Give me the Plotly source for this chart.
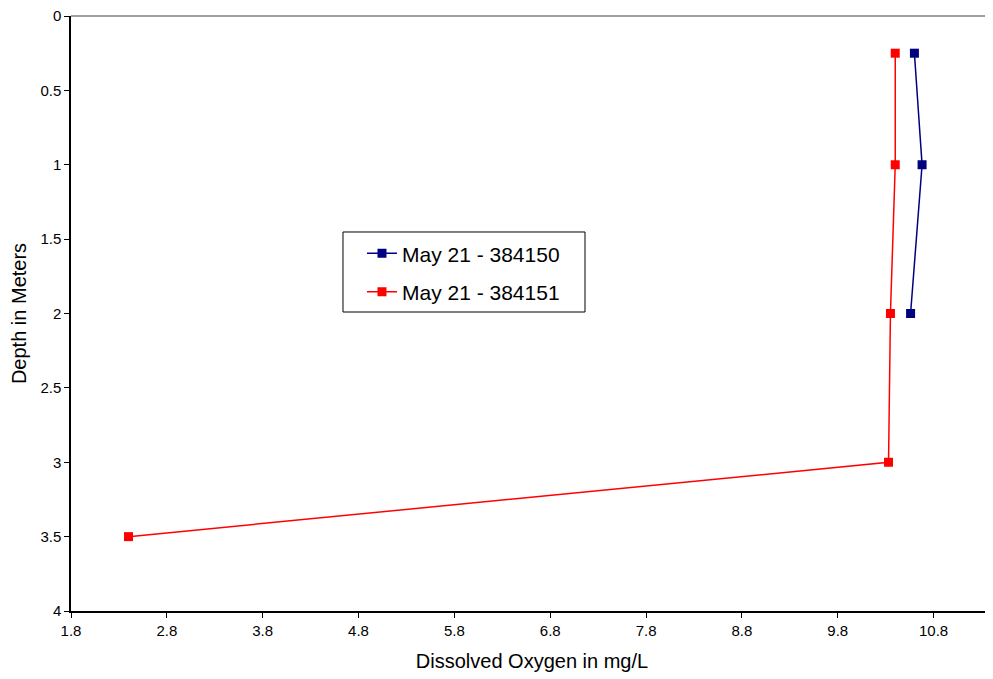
import plotly.graph_objects as go

depth_a = [0.25, 1, 2]
do_a = [10.60, 10.68, 10.56]
depth_b = [0.25, 1, 2, 3, 3.5]
do_b = [10.40, 10.40, 10.35, 10.33, 2.40]
names = ["May 21 - 384150", "May 21 - 384151"]

fig = go.Figure()
fig.add_trace(go.Scatter(x=do_a, y=depth_a, mode="lines+markers", name=names[0],
                         legendgroup="a",
                         line=dict(color="#000080", width=1.5),
                         marker=dict(symbol="square", size=9, color="#000080")))
fig.add_trace(go.Scatter(x=do_b, y=depth_b, mode="lines+markers", name=names[1],
                         legendgroup="b",
                         line=dict(color="#FF0000", width=1.5),
                         marker=dict(symbol="square", size=9, color="#FF0000")))

fig.update_layout(
    width=985, height=671,
    margin=dict(l=63, r=0, t=8, b=68),
    paper_bgcolor="white", plot_bgcolor="white",
    font=dict(family="Liberation Sans, Arial, sans-serif", color="black"),
    showlegend=True,
    legend=dict(x=0.3156, y=0.635, xanchor="left", yanchor="top",
                borderwidth=0, bgcolor="rgba(0,0,0,0)",
                font=dict(size=21), tracegroupgap=8),
    xaxis=dict(range=[1.8, 11.42], tick0=1.8, dtick=1, showgrid=False, zeroline=False,
               showline=True, linecolor="black", linewidth=1.5,
               ticks="outside", ticklen=5, tickcolor="black",
               tickfont=dict(size=15), ticklabeloverflow="allow",
               title=dict(text="Dissolved Oxygen in mg/L", font=dict(size=20), standoff=16)),
    yaxis=dict(range=[4, 0], tick0=0, dtick=0.5, showgrid=False, zeroline=False,
               showline=True, linecolor="black", linewidth=1.5,
               ticks="outside", ticklen=5, tickcolor="black",
               tickfont=dict(size=15), ticklabeloverflow="allow",
               title=dict(text="Depth in Meters", font=dict(size=20), standoff=14)),
)
fig.add_shape(type="line", xref="paper", yref="paper", x0=0, x1=1, y0=1, y1=1,
              line=dict(color="#808080", width=1.5))
fig.add_shape(type="rect", xref="paper", yref="paper", x0=0.295, x1=0.5575, y0=0.5025, y1=0.637,
              line=dict(color="black", width=1), fillcolor="white", layer="above")

fig.write_html("out.html")
